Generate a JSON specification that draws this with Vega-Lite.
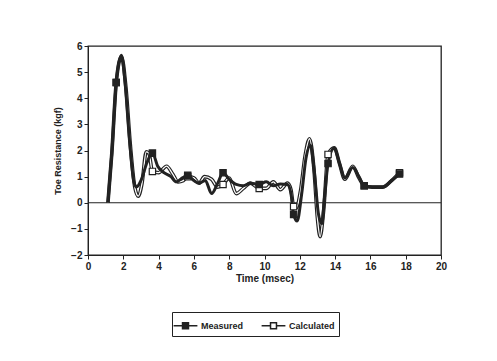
{
  "$schema": "https://vega.github.io/schema/vega-lite/v6.json",
  "width": 353,
  "height": 209,
  "autosize": {"type": "none"},
  "padding": {"left": 88, "top": 46, "right": 56, "bottom": 106},
  "background": "white",
  "config": {
    "view": {"stroke": "#222", "strokeWidth": 1.3},
    "font": "Liberation Sans",
    "axis": {
      "grid": false,
      "domainColor": "#222",
      "tickColor": "#222",
      "tickSize": 4,
      "labelFont": "Liberation Sans",
      "labelFontWeight": "bold",
      "labelFontSize": 10,
      "labelColor": "#222",
      "labelOverlap": false,
      "labelSeparation": 0,
      "titleFont": "Liberation Sans",
      "titleFontWeight": "bold",
      "titleColor": "#222"
    }
  },
  "datasets": {
    "curves": [
      {"t": 1.13, "v": 0, "s": "Measured", "m": 0},
      {"t": 1.35, "v": 1.9, "s": "Measured", "m": 0},
      {"t": 1.6, "v": 4.6, "s": "Measured", "m": 1},
      {"t": 1.89, "v": 5.65, "s": "Measured", "m": 0},
      {"t": 2.1, "v": 4.6, "s": "Measured", "m": 0},
      {"t": 2.35, "v": 2.4, "s": "Measured", "m": 0},
      {"t": 2.6, "v": 0.8, "s": "Measured", "m": 0},
      {"t": 2.75, "v": 0.6, "s": "Measured", "m": 0},
      {"t": 3.0, "v": 0.85, "s": "Measured", "m": 0},
      {"t": 3.35, "v": 1.55, "s": "Measured", "m": 0},
      {"t": 3.65, "v": 1.9, "s": "Measured", "m": 1},
      {"t": 3.95, "v": 1.4, "s": "Measured", "m": 0},
      {"t": 4.3, "v": 1.15, "s": "Measured", "m": 0},
      {"t": 4.7, "v": 1.0, "s": "Measured", "m": 0},
      {"t": 5.0, "v": 0.8, "s": "Measured", "m": 0},
      {"t": 5.35, "v": 0.95, "s": "Measured", "m": 0},
      {"t": 5.65, "v": 1.05, "s": "Measured", "m": 1},
      {"t": 6.0, "v": 0.85, "s": "Measured", "m": 0},
      {"t": 6.3, "v": 0.75, "s": "Measured", "m": 0},
      {"t": 6.65, "v": 0.85, "s": "Measured", "m": 0},
      {"t": 7.0, "v": 0.35, "s": "Measured", "m": 0},
      {"t": 7.35, "v": 0.75, "s": "Measured", "m": 0},
      {"t": 7.65, "v": 1.15, "s": "Measured", "m": 1},
      {"t": 8.0, "v": 0.9, "s": "Measured", "m": 0},
      {"t": 8.4, "v": 0.7, "s": "Measured", "m": 0},
      {"t": 8.8, "v": 0.65, "s": "Measured", "m": 0},
      {"t": 9.2, "v": 0.75, "s": "Measured", "m": 0},
      {"t": 9.7, "v": 0.7, "s": "Measured", "m": 1},
      {"t": 10.1, "v": 0.8, "s": "Measured", "m": 0},
      {"t": 10.5, "v": 0.65, "s": "Measured", "m": 0},
      {"t": 10.9, "v": 0.72, "s": "Measured", "m": 0},
      {"t": 11.3, "v": 0.7, "s": "Measured", "m": 0},
      {"t": 11.5, "v": 0.35, "s": "Measured", "m": 0},
      {"t": 11.65, "v": -0.45, "s": "Measured", "m": 1},
      {"t": 11.85, "v": -0.7, "s": "Measured", "m": 0},
      {"t": 12.1, "v": 0.3, "s": "Measured", "m": 0},
      {"t": 12.35, "v": 1.7, "s": "Measured", "m": 0},
      {"t": 12.6, "v": 2.2, "s": "Measured", "m": 0},
      {"t": 12.85, "v": 1.0, "s": "Measured", "m": 0},
      {"t": 13.05, "v": -0.4, "s": "Measured", "m": 0},
      {"t": 13.25, "v": -0.8, "s": "Measured", "m": 0},
      {"t": 13.4, "v": 0.2, "s": "Measured", "m": 0},
      {"t": 13.6, "v": 1.5, "s": "Measured", "m": 1},
      {"t": 13.95, "v": 2.1, "s": "Measured", "m": 0},
      {"t": 14.25, "v": 1.5, "s": "Measured", "m": 0},
      {"t": 14.55, "v": 0.95, "s": "Measured", "m": 0},
      {"t": 15.0, "v": 1.35, "s": "Measured", "m": 0},
      {"t": 15.35, "v": 1.0, "s": "Measured", "m": 0},
      {"t": 15.65, "v": 0.65, "s": "Measured", "m": 1},
      {"t": 16.1, "v": 0.6, "s": "Measured", "m": 0},
      {"t": 16.7, "v": 0.6, "s": "Measured", "m": 0},
      {"t": 17.2, "v": 0.85, "s": "Measured", "m": 0},
      {"t": 17.65, "v": 1.1, "s": "Measured", "m": 1},
      {"t": 1.13, "v": 0, "s": "Calculated", "m": 0},
      {"t": 1.35, "v": 1.9, "s": "Calculated", "m": 0},
      {"t": 1.6, "v": 4.6, "s": "Calculated", "m": 1},
      {"t": 1.9, "v": 5.6, "s": "Calculated", "m": 0},
      {"t": 2.15, "v": 4.4, "s": "Calculated", "m": 0},
      {"t": 2.4, "v": 2.2, "s": "Calculated", "m": 0},
      {"t": 2.65, "v": 0.6, "s": "Calculated", "m": 0},
      {"t": 2.85, "v": 0.25, "s": "Calculated", "m": 0},
      {"t": 3.05, "v": 0.7, "s": "Calculated", "m": 0},
      {"t": 3.3, "v": 1.95, "s": "Calculated", "m": 0},
      {"t": 3.45, "v": 1.9, "s": "Calculated", "m": 0},
      {"t": 3.65, "v": 1.2, "s": "Calculated", "m": 1},
      {"t": 4.0, "v": 1.15, "s": "Calculated", "m": 0},
      {"t": 4.45, "v": 1.4, "s": "Calculated", "m": 0},
      {"t": 4.8, "v": 1.1, "s": "Calculated", "m": 0},
      {"t": 5.1, "v": 0.8, "s": "Calculated", "m": 0},
      {"t": 5.4, "v": 0.85, "s": "Calculated", "m": 0},
      {"t": 5.65, "v": 1.0, "s": "Calculated", "m": 1},
      {"t": 6.0, "v": 0.95, "s": "Calculated", "m": 0},
      {"t": 6.3, "v": 0.75, "s": "Calculated", "m": 0},
      {"t": 6.6, "v": 1.0, "s": "Calculated", "m": 0},
      {"t": 7.0, "v": 0.9, "s": "Calculated", "m": 0},
      {"t": 7.35, "v": 0.6, "s": "Calculated", "m": 0},
      {"t": 7.65, "v": 0.7, "s": "Calculated", "m": 1},
      {"t": 8.0, "v": 0.95, "s": "Calculated", "m": 0},
      {"t": 8.4, "v": 0.35, "s": "Calculated", "m": 0},
      {"t": 8.8, "v": 0.55, "s": "Calculated", "m": 0},
      {"t": 9.2, "v": 0.75, "s": "Calculated", "m": 0},
      {"t": 9.7, "v": 0.55, "s": "Calculated", "m": 1},
      {"t": 10.1, "v": 0.55, "s": "Calculated", "m": 0},
      {"t": 10.5, "v": 0.8, "s": "Calculated", "m": 0},
      {"t": 10.9, "v": 0.5, "s": "Calculated", "m": 0},
      {"t": 11.3, "v": 0.75, "s": "Calculated", "m": 0},
      {"t": 11.5, "v": 0.5, "s": "Calculated", "m": 0},
      {"t": 11.65, "v": -0.15, "s": "Calculated", "m": 1},
      {"t": 11.8, "v": -0.2, "s": "Calculated", "m": 0},
      {"t": 12.05, "v": 0.5, "s": "Calculated", "m": 0},
      {"t": 12.3, "v": 1.8, "s": "Calculated", "m": 0},
      {"t": 12.55, "v": 2.45, "s": "Calculated", "m": 0},
      {"t": 12.8, "v": 1.3, "s": "Calculated", "m": 0},
      {"t": 13.0, "v": -0.6, "s": "Calculated", "m": 0},
      {"t": 13.15, "v": -1.3, "s": "Calculated", "m": 0},
      {"t": 13.35, "v": -0.3, "s": "Calculated", "m": 0},
      {"t": 13.6, "v": 1.85, "s": "Calculated", "m": 1},
      {"t": 13.95, "v": 2.1, "s": "Calculated", "m": 0},
      {"t": 14.25, "v": 1.5, "s": "Calculated", "m": 0},
      {"t": 14.55, "v": 0.9, "s": "Calculated", "m": 0},
      {"t": 15.0, "v": 1.4, "s": "Calculated", "m": 0},
      {"t": 15.35, "v": 0.95, "s": "Calculated", "m": 0},
      {"t": 15.65, "v": 0.65, "s": "Calculated", "m": 1},
      {"t": 16.1, "v": 0.6, "s": "Calculated", "m": 0},
      {"t": 16.7, "v": 0.6, "s": "Calculated", "m": 0},
      {"t": 17.2, "v": 0.85, "s": "Calculated", "m": 0},
      {"t": 17.65, "v": 1.15, "s": "Calculated", "m": 1}
    ],
    "zero": [{"v": 0}]
  },
  "data": {"name": "curves"},
  "encoding": {
    "x": {"field": "t", "type": "quantitative", "scale": {"domain": [0, 20], "nice": false},
          "axis": {"values": [0,2,4,6,8,10,12,14,16,18,20], "tickCount": 11, "labelOverlap": false, "labelFlush": false, "title": "Time (msec)", "titleFontSize": 10, "titlePadding": 2, "labelPadding": 2}},
    "y": {"field": "v", "type": "quantitative", "scale": {"domain": [-2, 6], "nice": false},
          "axis": {"values": [-2,-1,0,1,2,3,4,5,6], "tickCount": 9, "labelOverlap": false, "labelFlush": false, "title": "Toe Resistance (kgf)", "titleFontSize": 9, "titlePadding": 8, "labelPadding": 2}}
  },
  "layer": [
    {
      "data": {"name": "zero"},
      "mark": {"type": "rule", "color": "#222", "strokeWidth": 1.2},
      "encoding": {"x": null, "y": {"field": "v", "type": "quantitative"}}
    },
    {
      "transform": [{"filter": "datum.s === 'Calculated'"}],
      "mark": {"type": "line", "interpolate": "monotone", "color": "#222", "strokeWidth": 3.6, "clip": true}
    },
    {
      "transform": [{"filter": "datum.s === 'Calculated'"}],
      "mark": {"type": "line", "interpolate": "monotone", "color": "white", "strokeWidth": 1.3, "clip": true}
    },
    {
      "transform": [{"filter": "datum.s === 'Measured'"}],
      "mark": {"type": "line", "interpolate": "monotone", "strokeWidth": 3, "clip": true},
      "encoding": {
        "color": {"field": "s", "type": "nominal",
                  "scale": {"domain": ["Measured", "Calculated"], "range": ["#222", "#222"]},
                  "legend": {
                    "title": null,
                    "values": ["Measured", "Calculated"],
                    "orient": "none",
                    "legendX": 84,
                    "legendY": 266,
                    "direction": "horizontal",
                    "strokeColor": "#222",
                    "padding": 4,
                    "columnPadding": 14,
                    "labelFont": "Liberation Sans",
                    "labelFontWeight": "bold",
                    "labelFontSize": 9,
                    "labelColor": "#222",
                    "labelOffset": 6,
                    "symbolType": "M-1.4,0H-0.35M0.35,0H1.4M-0.35,-0.35H0.35V0.35H-0.35Z",
                    "symbolSize": 289,
                    "symbolStrokeWidth": 1.5,
                    "symbolStrokeColor": "#222",
                    "encode": {"symbols": {"update": {"fill": [{"test": "datum.label === 'Measured'", "value": "#222"}, {"value": "white"}]}}}
                  }}
      }
    },
    {
      "transform": [{"filter": "datum.m === 1 && datum.s === 'Calculated'"}],
      "mark": {"type": "point", "shape": "square", "size": 40, "strokeWidth": 1.2, "opacity": 1, "fill": "white", "stroke": "#222"}
    },
    {
      "transform": [{"filter": "datum.m === 1 && datum.s === 'Measured'"}],
      "mark": {"type": "point", "shape": "square", "size": 40, "strokeWidth": 1.2, "opacity": 1, "fill": "#222", "stroke": "#222"}
    }
  ]
}
